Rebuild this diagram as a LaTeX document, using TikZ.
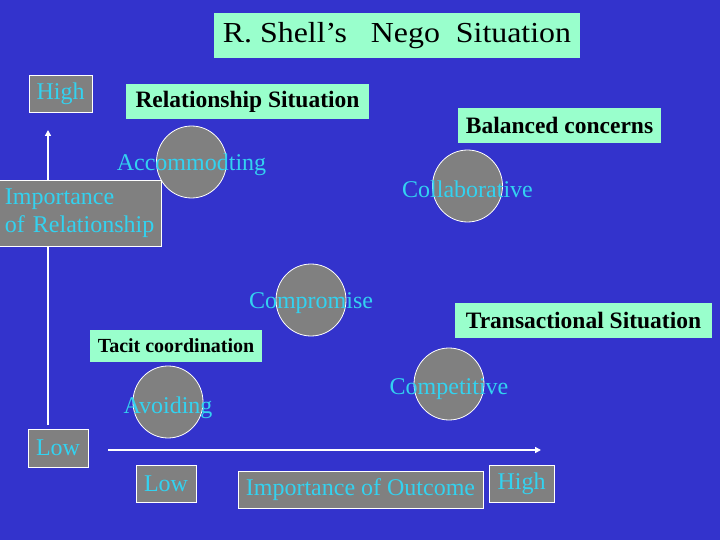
\documentclass[tikz,border=0pt]{standalone}
\usepackage{fontspec}
\setmainfont{Liberation Serif}
\usetikzlibrary{arrows.meta,positioning,shapes.geometric}
\definecolor{slideblue}{RGB}{51,51,204}
\definecolor{mint}{RGB}{153,255,204}
\definecolor{boxgray}{RGB}{128,128,128}
\definecolor{txtcyan}{RGB}{51,210,240}

\begin{document}
\begin{tikzpicture}[
  x=1pt, y=-1pt,
  >={Triangle[length=6pt, width=6pt]},
  title/.style={rectangle, fill=mint, inner sep=0pt, minimum width=366pt, minimum height=45pt,
                font=\fontsize{29}{31}\selectfont, text=black},
  sitn/.style={rectangle, fill=mint, inner sep=0pt, minimum height=35pt,
               font=\fontsize{23.5}{25}\selectfont\bfseries, text=black},
  tag/.style={rectangle, fill=boxgray, draw=white, line width=0.8pt, inner sep=0pt,
              minimum height=37pt, align=left, font=\fontsize{24}{28.5}\selectfont, text=txtcyan},
  disc/.style={ellipse, fill=boxgray, draw=white, line width=0.8pt, inner sep=0pt,
               minimum width=70pt, minimum height=72pt},
  modelbl/.style={font=\fontsize{24}{26}\selectfont, text=txtcyan, inner sep=0pt, yshift=-3pt},
  axis/.style={->, draw=white, line width=2pt},
]

% slide background
\fill[slideblue] (0,0) rectangle (720,540);
\useasboundingbox (0,0) rectangle (720,540);

% axes
\coordinate (yfoot) at (48,425);
\coordinate (ytip)  at (48,130);
\coordinate (xfoot) at (108,450);
\coordinate (xtip)  at (541,450);
\draw[axis] (yfoot) -- (ytip);
\draw[axis] (xfoot) -- (xtip);

\node[title] (head) at (397,35.5) {\scalebox{1.1}[1]{R. Shell's\ \ \ Nego\ \ Situation}};

% situation boxes
\node[sitn, minimum width=243pt] (rel)  at (247.5,101.5) {Relationship Situation};
\node[sitn, minimum width=203pt] (bal)  at (559.5,125.5) {Balanced concerns};
\node[sitn, minimum width=257pt] (tran) at (583.5,320)   {Transactional Situation};
\node[sitn, minimum width=172pt, minimum height=32pt,
      font=\fontsize{20}{22}\selectfont\bfseries] (tacit) at (176,346) {Tacit coordination};

% styles
\node[disc] (acc)  at (191.5,162) {};
\node[modelbl] at (acc) {Accommodting};
\node[disc] (col)  at (467.5,186) {};
\node[modelbl] at (col) {Collaborative};
\node[disc] (comp) at (311,300) {};
\node[modelbl] at (comp) {Compromise};
\node[disc] (avo)  at (168,402) {};
\node[modelbl, yshift=-3pt] at (avo) {Avoiding};
\node[disc] (cmpt) at (449,384) {};
\node[modelbl, yshift=-2pt] at (cmpt) {Competitive};

% axis labels
\node[tag, minimum width=63pt] (yhigh) at (60.5,93.5) {High};
\node[tag, minimum width=163pt, minimum height=66pt, text width=150pt] (ylab) at (80,213)
  {Importance\\of Relationship};
\node[tag, minimum width=60pt, minimum height=38pt] (ylow) at (58,448) {Low};
\node[tag, minimum width=60pt] (xlow)  at (166,483.5) {Low};
\node[tag, minimum width=245pt] (xlab) at (360.5,489.5) {Importance of Outcome};
\node[tag, minimum width=65pt] (xhigh) at (521.5,483.5) {High};

\end{tikzpicture}
\end{document}
